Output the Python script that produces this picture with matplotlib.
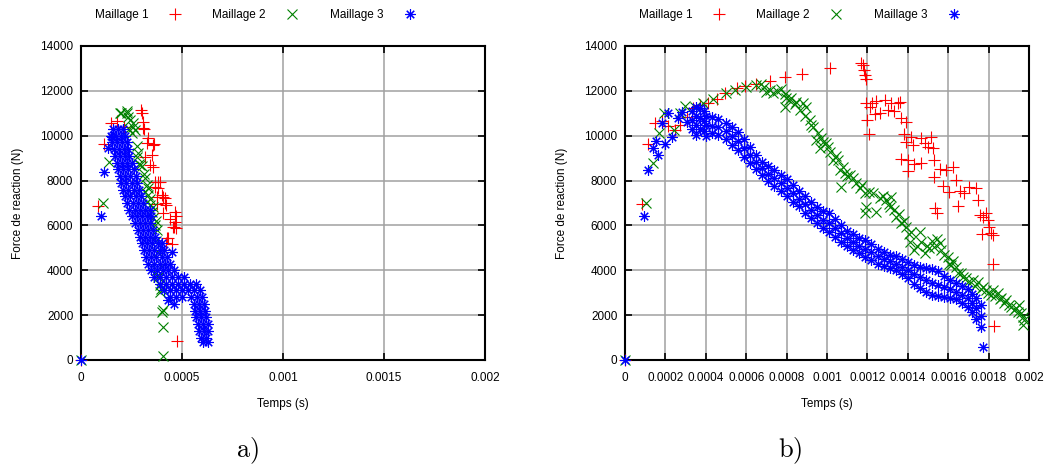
import matplotlib.pyplot as plt
from matplotlib.ticker import FuncFormatter

# time in 1e-4 s, force in N

# ---- panel a) ----
a_m1 = [(0, 0), (0.86, 6880), (1.15, 9630), (1.47, 10580), (1.80, 10660), (2.14, 10400),
        (2.97, 11150), (3.00, 11000), (3.05, 10630), (3.12, 10300), (3.08, 10330), (3.33, 9880),
        (3.28, 9660), (3.63, 9610), (3.58, 9590), (3.17, 9060), (3.50, 9140), (3.42, 8690),
        (3.58, 8620), (3.66, 7950), (3.83, 7950), (3.91, 7950), (3.80, 7660), (3.66, 7730),
        (3.75, 7280), (4.00, 7360), (4.04, 7280), (4.16, 7210), (3.75, 6960), (4.16, 6990),
        (4.21, 6920), (4.08, 6540), (4.41, 6290), (4.65, 6620), (4.70, 6400), (4.65, 6170),
        (4.60, 5950), (4.70, 5870), (4.57, 5950), (4.27, 5430), (4.32, 5430), (4.21, 5230),
        (4.49, 5160), (4.73, 850)]

a_m2 = [(0, 0), (1.07, 6990), (1.40, 8850), (1.93, 11000), (2.00, 11000), (2.26, 11030),
        (2.26, 11080), (2.35, 10850), (2.43, 10700), (2.55, 10550), (2.40, 10300), (2.59, 10410),
        (2.50, 10110), (2.67, 10260), (2.76, 9520), (2.84, 9220), (2.76, 9070), (2.85, 8750),
        (2.92, 8690), (3.00, 8650), (3.10, 8300), (3.17, 8100), (3.25, 7800), (3.30, 7650),
        (3.17, 7500), (3.33, 7360), (3.40, 7200), (3.25, 7060), (3.42, 6910), (3.55, 6800),
        (3.50, 6610), (3.58, 6320), (3.70, 6200), (3.66, 6020), (3.75, 5800), (3.72, 5300),
        (3.80, 4800), (3.75, 4000), (3.83, 3790), (3.83, 3720), (3.91, 3340), (3.95, 3150),
        (3.91, 3050), (4.00, 2160), (4.05, 2250), (4.04, 1490), (4.08, 190)]

a_m3_extra = [(0, 0), (0.97, 6440), (1.15, 8400), (1.35, 9440), (1.52, 9960),
              (4.52, 4830), (4.32, 2680)]
a_m3_band = [(10300, [1.6, 1.85, 2.1]),
             (10000, [1.5, 1.75, 2.0, 2.2]),
             (9700, [1.55, 1.8, 2.05, 2.3]),
             (9400, [1.65, 1.9, 2.15, 2.35]),
             (9100, [1.7, 1.95, 2.2, 2.4]),
             (8800, [1.8, 2.05, 2.3, 2.5]),
             (8500, [1.85, 2.1, 2.35, 2.6]),
             (8200, [1.95, 2.2, 2.45, 2.7]),
             (7900, [2.0, 2.25, 2.5, 2.75]),
             (7600, [2.1, 2.35, 2.6, 2.85]),
             (7300, [2.2, 2.45, 2.7, 2.95]),
             (7000, [2.3, 2.55, 2.8, 3.05]),
             (6700, [2.4, 2.65, 2.9, 3.15, 3.4]),
             (6400, [2.5, 2.75, 3.0, 3.25, 3.45]),
             (6100, [2.65, 2.9, 3.15, 3.4]),
             (5800, [2.8, 3.05, 3.3, 3.55]),
             (5500, [2.9, 3.15, 3.4, 3.65]),
             (5200, [3.0, 3.25, 3.5, 3.8, 4.0]),
             (4900, [3.1, 3.35, 3.6, 3.9, 4.1]),
             (4600, [3.2, 3.45, 3.7, 4.0, 4.25]),
             (4300, [3.3, 3.6, 3.9, 4.15, 4.4]),
             (4000, [3.45, 3.75, 4.05, 4.3, 4.6]),
             (3700, [3.6, 3.9, 4.2, 4.5, 4.8, 5.1]),
             (3400, [3.9, 4.2, 4.5, 4.8, 5.1, 5.4, 5.7]),
             (3100, [4.1, 4.4, 4.7, 5.0, 5.3, 5.6, 5.9]),
             (2800, [4.4, 4.7, 5.0, 5.45, 5.75, 6.0]),
             (2500, [4.6, 5.6, 5.85, 6.1]),
             (2200, [5.65, 5.9, 6.15]),
             (1900, [5.7, 5.95, 6.2]),
             (1600, [5.8, 6.05, 6.3]),
             (1300, [5.85, 6.1, 6.3]),
             (1000, [5.95, 6.2]),
             (800, [6.05, 6.3])]

# ---- panel b) ----
b_m1 = [(0, 0), (0.82, 6950), (1.15, 9630), (1.48, 10580), (1.81, 10650), (2.14, 10450),
        (2.47, 10250), (2.72, 10480), (3.08, 10850), (3.38, 11220), (3.71, 11370), (4.12, 11440),
        (4.53, 11620), (4.94, 11890), (5.52, 12110), (5.93, 12210), (6.47, 12300), (7.20, 12450),
        (7.94, 12600), (8.76, 12750), (10.13, 13000), (11.70, 13250), (11.78, 13150), (11.83, 12930),
        (11.86, 12700), (11.91, 12510), (11.94, 11440), (12.24, 11470), (12.44, 11560), (12.85, 11590),
        (13.18, 11470), (13.51, 11440), (13.59, 11520), (12.11, 11290), (12.36, 10970), (12.60, 11030),
        (13.02, 11140), (13.34, 11120), (12.00, 10700), (12.08, 10080), (13.67, 10770), (13.92, 10620),
        (13.79, 10080), (14.17, 9960), (13.92, 9730), (14.25, 9580), (14.66, 9880), (14.83, 9660),
        (15.16, 9960), (14.99, 9480), (15.24, 9440), (13.67, 8950), (14.00, 8920), (14.33, 8740),
        (14.66, 8800), (14.00, 8440), (15.32, 8920), (15.32, 8170), (15.57, 8500), (15.90, 8470),
        (16.23, 8620), (15.74, 7760), (16.06, 7500), (16.39, 8020), (16.56, 7550), (16.80, 7460),
        (17.05, 7700), (17.38, 7650), (15.37, 6760), (15.44, 6570), (16.48, 6870), (17.46, 7130),
        (17.55, 6460), (17.71, 6390), (17.87, 6540), (17.96, 6240), (18.04, 5940), (18.12, 5650),
        (18.20, 5570), (17.68, 5620), (18.24, 4260), (18.25, 1510)]

b_m2 = [(0, 0), (1.04, 6980), (1.37, 8800), (1.70, 10130), (1.93, 11000), (2.42, 10250),
        (2.72, 11030), (2.97, 11320), (3.46, 11290), (3.87, 11440), (4.37, 11620), (4.99, 11890),
        (5.44, 12040), (6.01, 12160), (6.50, 12250), (6.75, 12300), (6.90, 12150), (7.00, 11950),
        (7.20, 12050), (7.33, 11900), (7.50, 12000), (7.74, 12100), (7.90, 11850), (7.99, 11700),
        (7.91, 11290), (8.10, 11600), (8.24, 11670), (8.40, 11400), (8.48, 11500), (8.65, 11140),
        (8.81, 11440), (8.98, 11290), (8.90, 10900), (9.14, 10700), (9.20, 10500), (9.31, 10400),
        (9.47, 9810), (9.55, 10100), (9.72, 9880), (9.64, 9440), (9.80, 9700), (9.97, 9660),
        (10.13, 9290), (10.05, 9500), (10.30, 8920), (10.45, 9100), (10.54, 8920), (10.63, 8470),
        (10.80, 8600), (10.87, 8320), (10.71, 7730), (11.00, 8200), (11.15, 8250), (11.28, 8100),
        (11.45, 7880), (11.61, 7650), (11.75, 7800), (11.86, 7430), (11.94, 6840), (11.86, 6540),
        (12.10, 7500), (12.27, 7430), (12.44, 6610), (12.60, 7210), (12.75, 7300), (12.93, 7130),
        (13.05, 6950), (13.18, 7280), (13.10, 6840), (13.30, 6700), (13.43, 6390), (13.55, 6500),
        (13.67, 6090), (13.80, 6200), (13.92, 5940), (14.05, 5600), (14.17, 5720), (14.09, 5280),
        (14.33, 4900), (14.45, 5100), (14.58, 5720), (14.66, 5280), (14.83, 4750), (14.95, 5100),
        (15.07, 4980), (15.20, 5300), (15.32, 5050), (15.45, 5400), (15.57, 5200), (15.65, 4900),
        (15.80, 4700), (15.98, 4600), (16.05, 4300), (16.14, 4240), (16.25, 4400), (16.39, 4160),
        (16.50, 3900), (16.64, 3860), (16.75, 3700), (16.89, 3640), (17.00, 3500), (17.22, 3570),
        (17.35, 3300), (17.46, 3490), (17.60, 3150), (17.71, 3270), (17.85, 3100), (17.96, 2970),
        (18.10, 2900), (18.20, 3120), (18.30, 2850), (18.45, 2970), (18.55, 2700), (18.62, 2750),
        (18.75, 2550), (18.86, 2670), (19.00, 2450), (19.11, 2380), (19.25, 2250), (19.36, 2300),
        (19.45, 2150), (19.52, 2450), (19.60, 2080), (19.70, 1900), (19.69, 1560), (19.77, 1780)]

b_m3_extra = [(0, 0), (0.96, 6430), (1.15, 8470), (1.40, 9440), (1.53, 9760), (1.65, 9140),
              (1.82, 10550), (1.98, 9630), (2.14, 11000), (2.31, 9960), (2.64, 10780),
              (2.81, 11070), (3.05, 10630), (17.71, 560)]
b_m3_band = [(3.3, [11100, 10700, 10300]),
             (3.5, [11300, 10900, 10500, 10050]),
             (3.7, [11250, 10800, 10300]),
             (3.9, [11100, 10650, 10200]),
             (4.0, [10900, 10500, 10000]),
             (4.3, [10850, 10450, 10100]),
             (4.6, [10750, 10400, 10050]),
             (5.0, [10550, 10200, 9850]),
             (5.3, [10400, 10000, 9600]),
             (5.6, [10150, 9750, 9350]),
             (5.9, [9850, 9450, 9050]),
             (6.2, [9500, 9150, 8800]),
             (6.5, [9150, 8850, 8500]),
             (6.8, [8850, 8550, 8250]),
             (7.1, [8650, 8300, 8000]),
             (7.4, [8450, 8100, 7750]),
             (7.7, [8250, 7900, 7550]),
             (8.0, [8050, 7650, 7300]),
             (8.3, [7800, 7450, 7050]),
             (8.6, [7550, 7200, 6850]),
             (8.9, [7300, 6950, 6550]),
             (9.2, [7050, 6700, 6350]),
             (9.5, [6800, 6450, 6100]),
             (9.8, [6650, 6250, 5900]),
             (10.1, [6550, 6100, 5700]),
             (10.4, [6300, 5900, 5500]),
             (10.7, [6000, 5650, 5250]),
             (11.0, [5750, 5450, 5100]),
             (11.3, [5600, 5250, 4900]),
             (11.6, [5450, 5100, 4750]),
             (11.9, [5350, 4950, 4600]),
             (12.2, [5150, 4800, 4450]),
             (12.5, [4950, 4650, 4300]),
             (12.8, [4800, 4500, 4200]),
             (13.1, [4700, 4400, 4100]),
             (13.4, [4650, 4300, 4000]),
             (13.7, [4500, 4150, 3850]),
             (14.0, [4350, 4000, 3650]),
             (14.3, [4250, 3850, 3400]),
             (14.6, [4150, 3700, 3200]),
             (14.9, [4100, 3550, 3050]),
             (15.2, [4050, 3450, 2900]),
             (15.5, [3950, 3350, 2850]),
             (15.8, [3750, 3250, 2800]),
             (16.1, [3550, 3150, 2750]),
             (16.4, [3450, 3050, 2700]),
             (16.7, [3300, 2900, 2550]),
             (17.0, [3150, 2750, 2350]),
             (17.2, [2950, 2550, 2150]),
             (17.4, [2750, 2300, 1850]),
             (17.6, [2450, 1950, 1450])]

xticks_a = [0, 0.0005, 0.001, 0.0015, 0.002]
xticks_b = [0, 0.0002, 0.0004, 0.0006, 0.0008, 0.001, 0.0012, 0.0014, 0.0016, 0.0018, 0.002]
yticks = [0, 2000, 4000, 6000, 8000, 10000, 12000, 14000]
labels = ['Maillage 1', 'Maillage 2', 'Maillage 3']


def band_a(rows):
    return [(t, f) for f, ts in rows for t in ts]


def band_b(rows):
    return [(t, f) for t, fs in rows for f in fs]


plt.rcParams['font.family'] = ['Liberation Sans', 'DejaVu Sans']
plt.rcParams['mathtext.fontset'] = 'cm'

W, H = 1046, 466
fig = plt.figure(figsize=(W / 100, H / 100), dpi=100)
ax_a = fig.add_axes([81 / W, 1 - 360 / H, 404 / W, 314 / H])
ax_b = fig.add_axes([625 / W, 1 - 360 / H, 404 / W, 314 / H])

colors = ['#ff0000', '#008000', '#0000ff']
markers = ['+', 'x', (8, 2, 0)]
sizes = [8, 7, 7.5]


def draw(ax, series, xticks):
    for pts, lab, c, m, s in zip(series, labels, colors, markers, sizes):
        t = [p[0] * 1e-4 for p in pts]
        f = [p[1] for p in pts]
        ax.plot(t, f, linestyle='none', marker=m, ms=s, mew=0.8, color=c,
                label=lab, clip_on=False, zorder=3)
    ax.set_xlim(0, 0.002)
    ax.set_ylim(0, 14000)
    ax.set_xticks(xticks)
    ax.set_yticks(yticks)
    ax.xaxis.set_major_formatter(FuncFormatter(lambda v, p: '%g' % v))
    ax.grid(True, color='#a0a0a0', lw=1.1)
    ax.set_axisbelow(True)
    ax.tick_params(direction='in', top=True, right=True, length=5, width=1.2,
                   labelsize=8.5, colors='black')
    ax.tick_params(axis='x', pad=8.5)
    ax.tick_params(axis='y', pad=5.5)
    for sp in ax.spines.values():
        sp.set_linewidth(1.5)
    ax.set_xlabel('Temps (s)', fontsize=8.5, labelpad=10)
    ax.set_ylabel('Force de reaction (N)', fontsize=8.5, labelpad=12)
    ax.legend(loc='center', bbox_to_anchor=(0.435, 1.099), ncol=3, frameon=False,
              markerfirst=False, numpoints=1, fontsize=8.5, handlelength=1.5,
              handletextpad=1.5, columnspacing=2.4)


draw(ax_a, [a_m1, a_m2, a_m3_extra + band_a(a_m3_band)], xticks_a)
draw(ax_b, [b_m1, b_m2, b_m3_extra + band_b(b_m3_band)], xticks_b)

fig.text(247 / W, 1 - 451 / H, r'$\mathrm{a)}$', fontsize=19, ha='center', va='center')
fig.text(790 / W, 1 - 451 / H, r'$\mathrm{b)}$', fontsize=19, ha='center', va='center')

fig.savefig('out.png', dpi=100)
